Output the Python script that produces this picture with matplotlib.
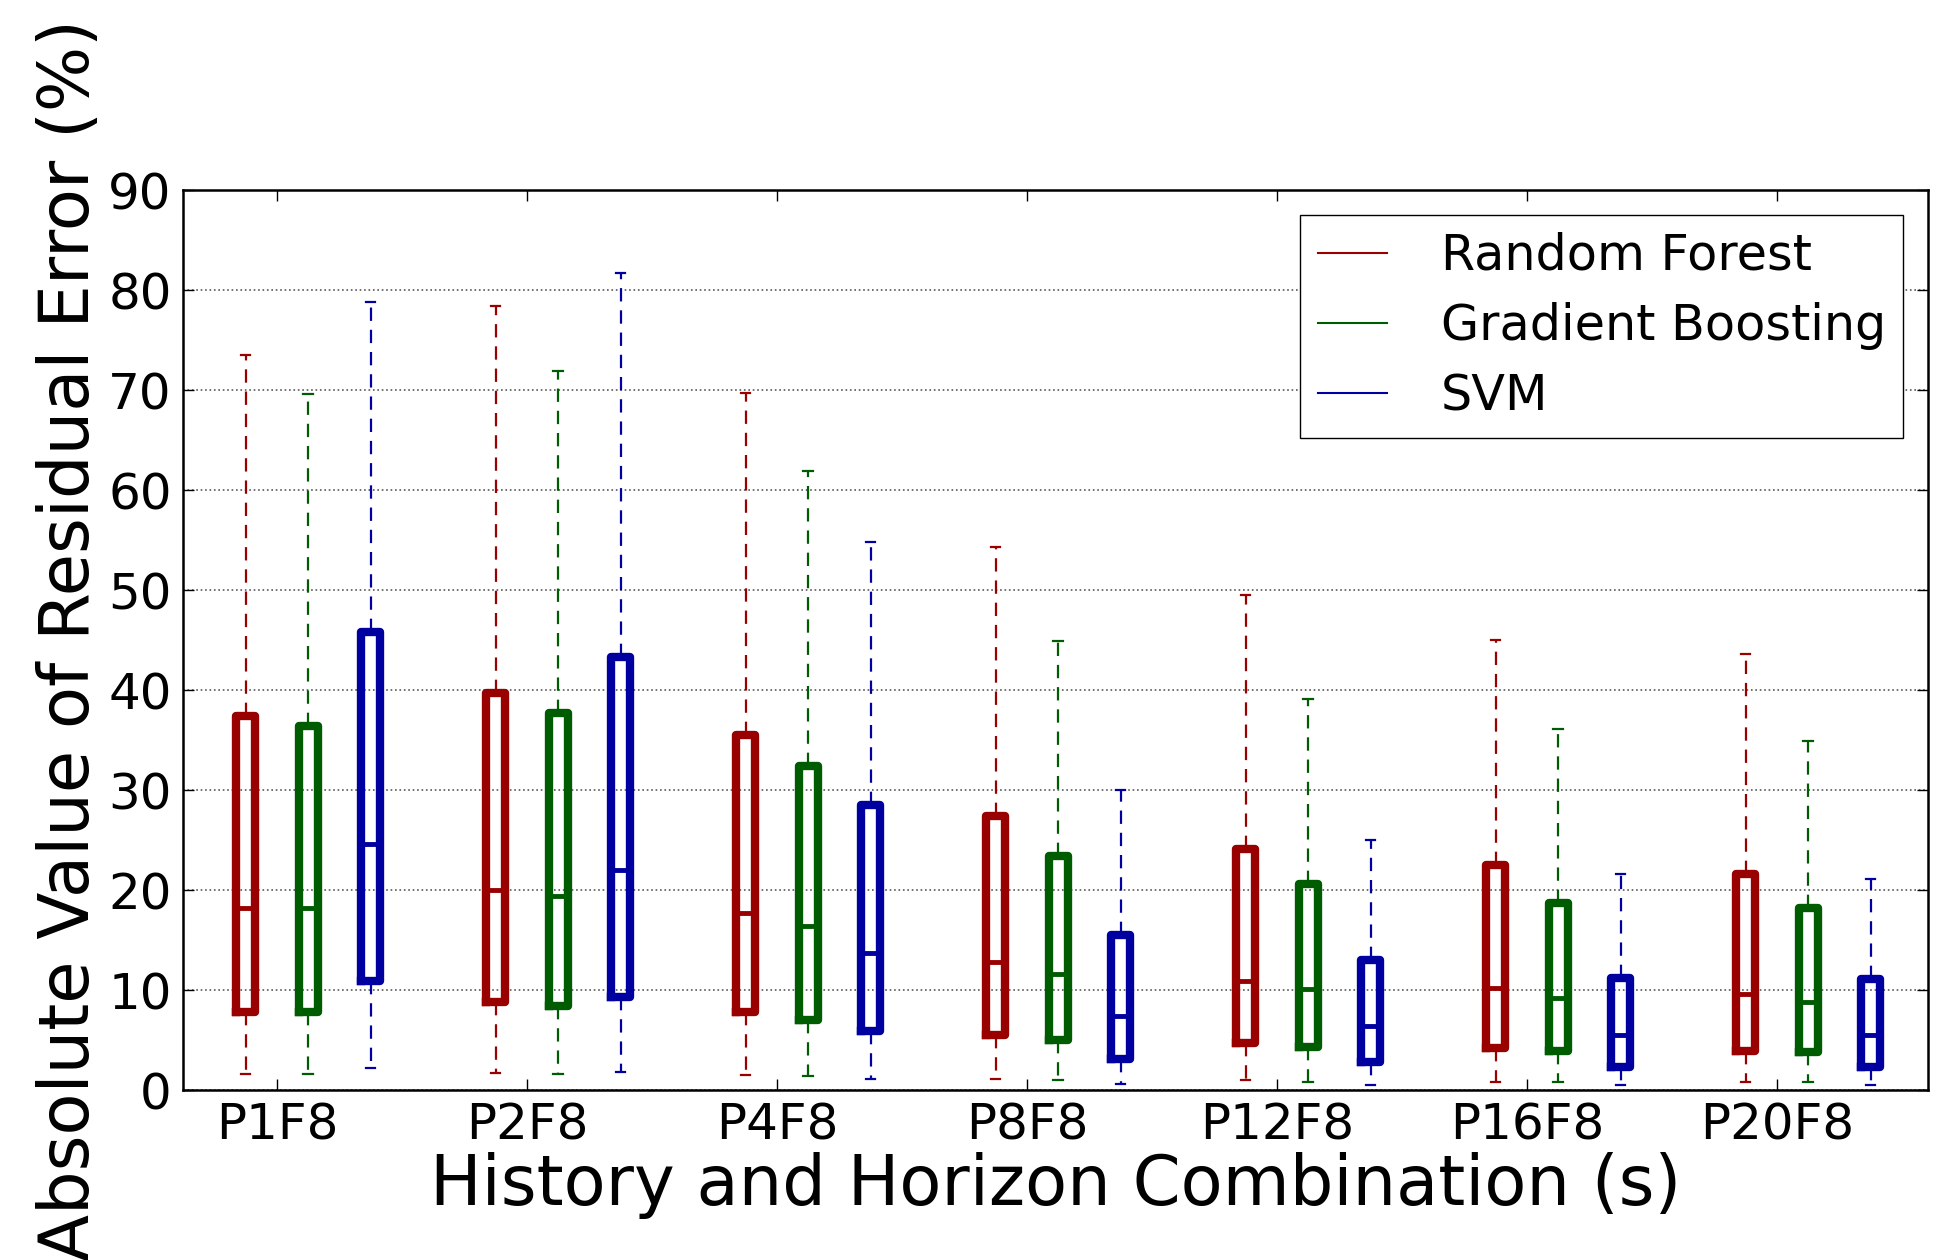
import matplotlib
matplotlib.use("Agg")
import matplotlib.pyplot as plt
from matplotlib.lines import Line2D

# history/horizon combinations on the x axis
combos = ["P1F8", "P2F8", "P4F8", "P8F8", "P12F8", "P16F8", "P20F8"]
models = ["Random Forest", "Gradient Boosting", "SVM"]
colors = ["#990000", "#005c00", "#0000a0"]

# box stats (whisker low, q1, median, q3, whisker high)
rf_low  = [1.6, 1.7, 1.5, 1.1, 1.0, 0.8, 0.8]
rf_q1   = [7.8, 8.8, 7.8, 5.5, 4.7, 4.2, 3.9]
rf_med  = [18.2, 20.0, 17.7, 12.8, 10.9, 10.2, 9.6]
rf_q3   = [37.4, 39.7, 35.5, 27.4, 24.1, 22.5, 21.6]
rf_high = [73.5, 78.4, 69.7, 54.3, 49.5, 45.0, 43.6]

gb_low  = [1.6, 1.6, 1.4, 1.0, 0.8, 0.8, 0.8]
gb_q1   = [7.8, 8.4, 7.0, 5.0, 4.3, 3.9, 3.8]
gb_med  = [18.2, 19.4, 16.4, 11.6, 10.1, 9.2, 8.8]
gb_q3   = [36.4, 37.7, 32.4, 23.4, 20.6, 18.7, 18.2]
gb_high = [69.6, 71.9, 61.9, 44.9, 39.1, 36.1, 34.9]

svm_low  = [2.2, 1.8, 1.1, 0.6, 0.5, 0.5, 0.5]
svm_q1   = [10.9, 9.3, 5.9, 3.1, 2.8, 2.3, 2.3]
svm_med  = [24.6, 22.0, 13.7, 7.4, 6.4, 5.5, 5.5]
svm_q3   = [45.8, 43.3, 28.5, 15.5, 13.0, 11.2, 11.1]
svm_high = [78.8, 81.7, 54.8, 30.0, 25.0, 21.6, 21.1]

series = [
    (rf_low, rf_q1, rf_med, rf_q3, rf_high),
    (gb_low, gb_q1, gb_med, gb_q3, gb_high),
    (svm_low, svm_q1, svm_med, svm_q3, svm_high),
]

fig = plt.figure(figsize=(19.5, 12.6), dpi=100)
ax = fig.add_axes([0.0938, 0.1349, 0.8949, 0.7143])

# tick sits between the first two boxes of each group
offsets = [-0.125, 0.125, 0.375]
group_x = list(range(1, len(combos) + 1))

for (low, q1, med, q3, high), off, col in zip(series, offsets, colors):
    stats = [
        {"whislo": lo, "q1": a, "med": m, "q3": b, "whishi": hi, "fliers": []}
        for lo, a, m, b, hi in zip(low, q1, med, q3, high)
    ]
    ax.bxp(
        stats,
        positions=[g + off for g in group_x],
        widths=0.076,
        showfliers=False,
        manage_ticks=False,
        boxprops=dict(color=col, linewidth=6),
        medianprops=dict(color=col, linewidth=3.5),
        whiskerprops=dict(color=col, linewidth=1.6, linestyle=(0, (6, 4))),
        capprops=dict(color=col, linewidth=1.6),
    )

ax.set_xlim(0.624, 7.604)
ax.set_ylim(0, 90)
ax.set_xticks(group_x)
ax.set_xticklabels(combos)
ax.set_yticks(range(0, 91, 10))
ax.tick_params(direction="in", top=True, right=True, length=8, width=1,
               labelsize=36, pad=8)
ax.yaxis.grid(True, color="0.35", linestyle=":", linewidth=1.2)
for sp in ax.spines.values():
    sp.set_linewidth(1.8)

ax.set_xlabel("History and Horizon Combination (s)", fontsize=49.5, labelpad=2)
ax.set_ylabel("Absolute Value of Residual Error (%)", fontsize=49.5, labelpad=4)

handles = [Line2D([], [], color=c, linewidth=1.5) for c in colors]
ax.legend(handles, models, loc="upper right", fontsize=35.5, fancybox=False,
          edgecolor="black", framealpha=1, handlelength=1.4, handletextpad=1.1,
          labelspacing=0.45, borderpad=0.35, borderaxespad=0.5)

fig.savefig("out.png", dpi=100)
